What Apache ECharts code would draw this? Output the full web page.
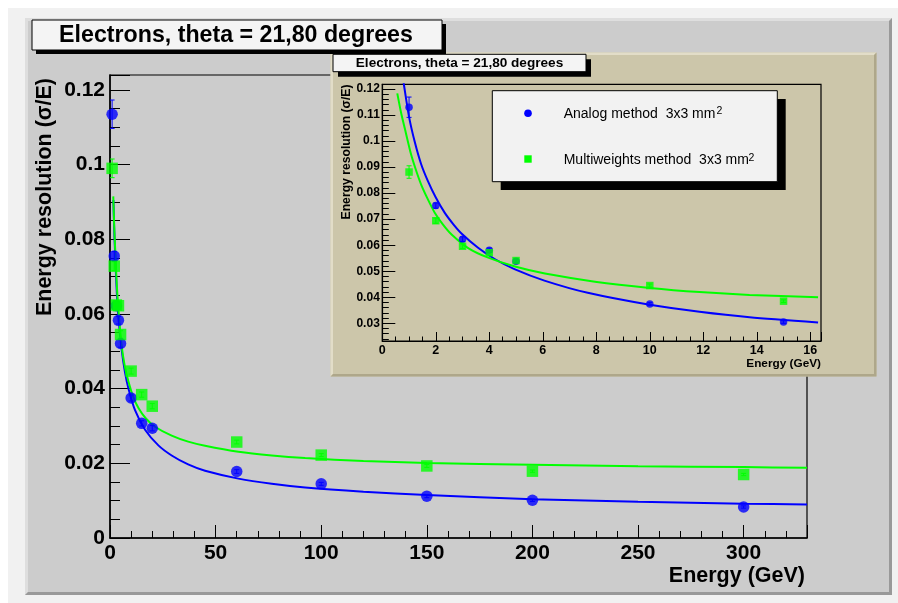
<!DOCTYPE html>
<html><head><meta charset="utf-8">
<script src="https://cdn.jsdelivr.net/npm/echarts@6/dist/echarts.min.js"></script>
<style>html,body{margin:0;padding:0;background:#fff}#c{width:898px;height:603px}</style>
</head><body><div id="c"></div>
<script>
// ---------------- texts ----------------
const titleText = 'Electrons, theta = 21,80 degrees';
const yTitleText = 'Energy resolution (\u03c3/E)';
const xTitleText = 'Energy (GeV)';
const legendNames = ['Analog method  3x3 mm', 'Multiweights method  3x3 mm'];
const legendSup = '2';

// ---------------- main plot data ----------------
const mainE = [1, 2, 3, 4, 5, 10, 15, 20, 60, 100, 150, 200, 300];
const mainAnalog = [0.1135, 0.0755, 0.0622, 0.0583, 0.0521, 0.0375, 0.0307, 0.0294, 0.0178, 0.0145, 0.0112, 0.0101, 0.0083];
const mainAnalogErr = [0.0038, 0.0012, 0.0011, 0.0010, 0.0010, 0.0008, 0.0007, 0.0007, 0.0005, 0.0004, 0.0004, 0.0003, 0.0003];
const mainMulti = [0.0990, 0.0728, 0.0624, 0.0622, 0.0545, 0.0447, 0.0384, 0.0353, 0.0257, 0.0222, 0.0193, 0.0179, 0.0170];
const mainMultiErr = [0.0025, 0.0012, 0.0011, 0.0010, 0.0010, 0.0008, 0.0007, 0.0007, 0.0005, 0.0004, 0.0004, 0.0003, 0.0003];
// fitted curves: [E, sigma/E]
const mainAnalogFit = [[1.6,0.0905],[2,0.0825],[2.4,0.0765],[3.2,0.066],[4,0.059],[5.5,0.0505],[7,0.0447],[8.7,0.0401],[11.8,0.0343],[16.6,0.0290],[22.9,0.0248],[29.2,0.0221],[37,0.0197],[45,0.0180],[60.8,0.0159],[76.6,0.0145],[92.4,0.0135],[120,0.0124],[150,0.0115],[200,0.0104],[250,0.0097],[300,0.0092],[330,0.0090]];
const mainMultiFit = [[1.55,0.0915],[2,0.0835],[2.4,0.078],[3.2,0.068],[4,0.061],[5.5,0.0515],[7,0.0460],[8.7,0.0420],[11,0.0378],[13.4,0.0349],[17,0.0320],[21.3,0.0298],[29.2,0.0274],[37,0.0258],[45,0.0247],[60.8,0.0231],[76.6,0.0221],[92.4,0.0214],[120,0.0206],[150,0.0201],[200,0.0196],[250,0.0192],[300,0.0190],[330,0.0188]];
const mainXTicks = {min: 0, max: 330, step: 50};
const mainYTicks = {min: 0, max: 0.124, step: 0.02};

// ---------------- inset data ----------------
const insetE = [1, 2, 3, 4, 5, 10, 15];
const insetAnalog = [0.1130, 0.0752, 0.0623, 0.0581, 0.0538, 0.0374, 0.0305];
const insetAnalogErr = [0.0039, 0.0010, 0.0009, 0.0008, 0.0008, 0.0006, 0.0005];
const insetMulti = [0.0881, 0.0694, 0.0596, 0.0571, 0.0541, 0.0445, 0.0385];
const insetMultiErr = [0.0024, 0.0010, 0.0009, 0.0008, 0.0008, 0.0006, 0.0005];
const insetAnalogFit = [[0.74,0.1262],[0.8,0.1222],[1,0.1093],[1.21,0.0998],[1.45,0.0912],[1.71,0.0845],[2,0.0783],[2.33,0.0725],[2.65,0.0681],[2.95,0.0646],[3.58,0.0590],[4.2,0.0547],[4.94,0.0508],[6.06,0.0464],[7.68,0.0417],[10,0.0371],[11.86,0.0344],[13.73,0.0323],[16.29,0.0303]];
const insetMultiFit = [[0.56,0.1183],[0.7,0.1110],[0.84,0.1049],[1.08,0.0947],[1.27,0.0885],[1.46,0.0831],[1.7,0.0777],[1.96,0.0725],[2.27,0.0679],[2.59,0.0641],[3.21,0.0589],[3.96,0.0552],[4.96,0.0518],[6.08,0.0491],[7.95,0.0460],[10,0.0436],[11.86,0.0420],[13.73,0.0409],[16.29,0.0400]];
const insetXTicks = {min: 0, max: 16.4, step: 2};
const insetYRange = {min: 0.0232, max: 0.1218};
const insetYLabels = [0.03, 0.04, 0.05, 0.06, 0.07, 0.08, 0.09, 0.10, 0.11, 0.12];
const insetYMinor = [0.024,0.026,0.028,0.032,0.034,0.036,0.038,0.042,0.044,0.046,0.048,0.052,0.054,0.056,0.058,0.062,0.064,0.066,0.068,0.072,0.074,0.076,0.078,0.082,0.084,0.086,0.088,0.092,0.094,0.096,0.098,0.102,0.104,0.106,0.108,0.112,0.114,0.116,0.118];

// ---------------- colours ----------------
const BLUE = '#0000ff', GREEN = '#00ff00';
const FONT = '"Liberation Sans", Arial, Helvetica, sans-serif';

const fmt = v => (Math.round(v * 1000) / 1000).toString();
const zip = (xs, ys) => xs.map((x, i) => [x, ys[i]]);
const zip3 = (xs, ys, es) => xs.map((x, i) => [x, ys[i], es[i]]);

function errSeries(gi, yi, data, color, cap, z) {
  return {
    type: 'custom', xAxisIndex: gi, yAxisIndex: yi, z: z, silent: true, clip: true,
    data: data,
    renderItem: function (params, api) {
      const x = api.value(0), y = api.value(1), e = api.value(2);
      const hi = api.coord([x, y + e]), lo = api.coord([x, y - e]);
      const st = {stroke: color, lineWidth: 1};
      return {type: 'group', children: [
        {type: 'line', shape: {x1: hi[0], y1: hi[1], x2: lo[0], y2: lo[1]}, style: st},
        {type: 'line', shape: {x1: hi[0] - cap, y1: hi[1], x2: hi[0] + cap, y2: hi[1]}, style: st},
        {type: 'line', shape: {x1: lo[0] - cap, y1: lo[1], x2: lo[0] + cap, y2: lo[1]}, style: st}
      ]};
    }
  };
}
function fitSeries(gi, yi, data, color, z) {
  return {type: 'line', xAxisIndex: gi, yAxisIndex: yi, z: z, data: data, showSymbol: false,
          smooth: 0.25, clip: true, lineStyle: {color: color, width: 2}, silent: true};
}

const chart = echarts.init(document.getElementById('c'), null, {renderer: 'canvas'});

const mainLabel = {fontFamily: FONT, fontSize: 21, fontWeight: 'bold', color: '#000'};
const insetLabel = {fontFamily: FONT, fontSize: 12.5, fontWeight: 'bold', color: '#000'};

const option = {
  animation: false,
  textStyle: {fontFamily: FONT},
  grid: [
    {left: 110, top: 75, width: 697, height: 463, show: true, backgroundColor: 'transparent', borderColor: '#000', borderWidth: 1.2, z: 2},
    {left: 382.3, top: 84.3, width: 438.7, height: 256.7, show: true, backgroundColor: 'transparent', borderColor: '#000', borderWidth: 1.2, z: 14}
  ],
  xAxis: [
    {gridIndex: 0, type: 'value', min: mainXTicks.min, max: mainXTicks.max, interval: mainXTicks.step, z: 3,
     axisLine: {show: true, onZero: false, lineStyle: {color: '#000', width: 1.5}},
     axisTick: {show: true, inside: true, length: 13, lineStyle: {color: '#000', width: 1}},
     minorTick: {show: true, splitNumber: 5, length: 7, lineStyle: {color: '#000', width: 1}},
     splitLine: {show: false}, minorSplitLine: {show: false},
     axisLabel: Object.assign({margin: 5, showMaxLabel: false, formatter: fmt}, mainLabel)},
    {gridIndex: 1, type: 'value', min: insetXTicks.min, max: insetXTicks.max, interval: insetXTicks.step, z: 15,
     axisLine: {show: true, onZero: false, lineStyle: {color: '#000', width: 1.2}},
     axisTick: {show: true, inside: true, length: 9, lineStyle: {color: '#000', width: 1}},
     minorTick: {show: true, splitNumber: 4, length: 4.5, lineStyle: {color: '#000', width: 1}},
     splitLine: {show: false}, minorSplitLine: {show: false},
     axisLabel: Object.assign({margin: 3, showMaxLabel: false, formatter: fmt}, insetLabel)}
  ],
  yAxis: [
    {gridIndex: 0, type: 'value', position: 'left', min: mainYTicks.min, max: mainYTicks.max, interval: mainYTicks.step, z: 3,
     axisLine: {show: true, onZero: false, lineStyle: {color: '#000', width: 1.5}},
     axisTick: {show: true, inside: true, length: 20, lineStyle: {color: '#000', width: 1}},
     minorTick: {show: true, splitNumber: 4, length: 10, lineStyle: {color: '#000', width: 1}},
     splitLine: {show: false}, minorSplitLine: {show: false},
     axisLabel: Object.assign({margin: 5, showMaxLabel: false, formatter: fmt}, mainLabel)},
    {gridIndex: 1, type: 'value', position: 'left', min: insetYRange.min, max: insetYRange.max, z: 15,
     axisLine: {show: true, onZero: false, lineStyle: {color: '#000', width: 1.2}},
     axisTick: {show: true, inside: true, length: 13, customValues: insetYLabels, lineStyle: {color: '#000', width: 1}},
     splitLine: {show: false},
     axisLabel: Object.assign({margin: 2.5, customValues: insetYLabels, formatter: fmt}, insetLabel, {fontSize: 12})},
    {gridIndex: 1, type: 'value', position: 'left', offset: 0, min: insetYRange.min, max: insetYRange.max, z: 15,
     axisLine: {show: false},
     axisTick: {show: true, inside: true, length: 6.5, customValues: insetYMinor, lineStyle: {color: '#000', width: 1}},
     splitLine: {show: false},
     axisLabel: {show: false}}
  ],
  series: [
    // main plot
    fitSeries(0, 0, mainAnalogFit, BLUE, 4),
    fitSeries(0, 0, mainMultiFit, GREEN, 4),
    errSeries(0, 0, zip3(mainE, mainAnalog, mainAnalogErr), BLUE, 2.5, 5),
    {type: 'scatter', xAxisIndex: 0, yAxisIndex: 0, z: 6, data: zip(mainE, mainAnalog), symbol: 'circle', symbolSize: 11.5, itemStyle: {color: BLUE}, silent: true},
    errSeries(0, 0, zip3(mainE, mainMulti, mainMultiErr), GREEN, 2.5, 6),
    {type: 'scatter', xAxisIndex: 0, yAxisIndex: 0, z: 7, data: zip(mainE, mainMulti), symbol: 'rect', symbolSize: 11.5, itemStyle: {color: GREEN}, silent: true},
    // inset
    fitSeries(1, 1, insetAnalogFit, BLUE, 16),
    fitSeries(1, 1, insetMultiFit, GREEN, 16),
    errSeries(1, 1, zip3(insetE, insetAnalog, insetAnalogErr), BLUE, 2.5, 17),
    {type: 'scatter', xAxisIndex: 1, yAxisIndex: 1, z: 18, data: zip(insetE, insetAnalog), symbol: 'circle', symbolSize: 7.5, itemStyle: {color: BLUE}, silent: true},
    errSeries(1, 1, zip3(insetE, insetMulti, insetMultiErr), GREEN, 2.5, 18),
    {type: 'scatter', xAxisIndex: 1, yAxisIndex: 1, z: 19, data: zip(insetE, insetMulti), symbol: 'rect', symbolSize: 7.5, itemStyle: {color: GREEN}, silent: true}
  ],
  graphic: {elements: [
    // page & main pad
    {type: 'rect', z: 0, silent: true, shape: {x: 8, y: 8, width: 890, height: 595}, style: {fill: '#f1f1f1'}},
    {type: 'rect', z: 1, silent: true, shape: {x: 25, y: 18, width: 867, height: 577}, style: {fill: '#cccccc'}},
    {type: 'polygon', z: 1, silent: true, shape: {points: [[25,18],[892,18],[889,21],[28,21],[28,592],[25,595]]}, style: {fill: '#dedede'}},
    {type: 'polygon', z: 1, silent: true, shape: {points: [[25,595],[892,595],[892,18],[889,21],[889,592],[28,592]]}, style: {fill: '#999999'}},
    // main axis titles
    {type: 'text', z: 8, silent: true, x: 45, y: 78, rotation: Math.PI / 2,
     style: {text: yTitleText, font: 'bold 21.5px ' + FONT, fill: '#000', align: 'right', verticalAlign: 'middle'}},
    {type: 'text', z: 8, silent: true, x: 805, y: 576,
     style: {text: xTitleText, font: 'bold 21.5px ' + FONT, fill: '#000', align: 'right', verticalAlign: 'middle'}},
    // inset pad
    {type: 'rect', z: 10, silent: true, shape: {x: 330.5, y: 52.5, width: 546, height: 324}, style: {fill: '#ccc6aa'}},
    {type: 'polygon', z: 10, silent: true, shape: {points: [[330.5,52.5],[876.5,52.5],[874,55],[333,55],[333,374],[330.5,376.5]]}, style: {fill: '#e2ddc8'}},
    {type: 'polygon', z: 10, silent: true, shape: {points: [[330.5,376.5],[876.5,376.5],[876.5,52.5],[874,55],[874,374],[333,374]]}, style: {fill: '#aea78a'}},
    // inset title
    {type: 'rect', z: 11, silent: true, shape: {x: 338, y: 59.3, width: 253, height: 17.4}, style: {fill: '#000'}},
    {type: 'rect', z: 12, silent: true, shape: {x: 333, y: 54.3, width: 253, height: 17.4}, style: {fill: '#f4f4f4', stroke: '#000', lineWidth: 1}},
    {type: 'text', z: 13, silent: true, x: 459.5, y: 63.3,
     style: {text: titleText, font: 'bold 13.6px ' + FONT, fill: '#000', align: 'center', verticalAlign: 'middle'}},
    // inset axis titles
    {type: 'text', z: 13, silent: true, x: 346.3, y: 84.5, rotation: Math.PI / 2,
     style: {text: yTitleText, font: 'bold 12.2px ' + FONT, fill: '#000', align: 'right', verticalAlign: 'middle'}},
    {type: 'text', z: 13, silent: true, x: 821, y: 363.5,
     style: {text: xTitleText, font: 'bold 11.8px ' + FONT, fill: '#000', align: 'right', verticalAlign: 'middle'}},
    // legend
    {type: 'rect', z: 20, silent: true, shape: {x: 500.7, y: 99, width: 285, height: 91}, style: {fill: '#000'}},
    {type: 'rect', z: 21, silent: true, shape: {x: 492.3, y: 90.7, width: 285, height: 91}, style: {fill: '#f2f2f2', stroke: '#000', lineWidth: 1}},
    {type: 'circle', z: 22, silent: true, shape: {cx: 528, cy: 113.3, r: 3.8}, style: {fill: BLUE}},
    {type: 'rect', z: 22, silent: true, shape: {x: 524.3, y: 155.3, width: 7.4, height: 7.4}, style: {fill: GREEN}},
    {type: 'text', z: 22, silent: true, x: 563.7, y: 114.3,
     style: {text: legendNames[0], font: '14px ' + FONT, fill: '#000', align: 'left', verticalAlign: 'middle'}},
    {type: 'text', z: 22, silent: true, x: 716.5, y: 111.5,
     style: {text: legendSup, font: '10.5px ' + FONT, fill: '#000', align: 'left', verticalAlign: 'middle'}},
    {type: 'text', z: 22, silent: true, x: 563.7, y: 160.3,
     style: {text: legendNames[1], font: '14px ' + FONT, fill: '#000', align: 'left', verticalAlign: 'middle'}},
    {type: 'text', z: 22, silent: true, x: 748.5, y: 157.8,
     style: {text: legendSup, font: '10.5px ' + FONT, fill: '#000', align: 'left', verticalAlign: 'middle'}},
    // main title
    {type: 'rect', z: 30, silent: true, shape: {x: 36, y: 24, width: 410, height: 30}, style: {fill: '#000'}},
    {type: 'rect', z: 31, silent: true, shape: {x: 32, y: 20, width: 410, height: 30}, style: {fill: '#f4f4f4', stroke: '#000', lineWidth: 1}},
    {type: 'text', z: 32, silent: true, x: 236, y: 35.5,
     style: {text: titleText, font: 'bold 23.2px ' + FONT, fill: '#000', align: 'center', verticalAlign: 'middle'}}
  ]}
};
chart.setOption(option);
</script>
</body></html>
